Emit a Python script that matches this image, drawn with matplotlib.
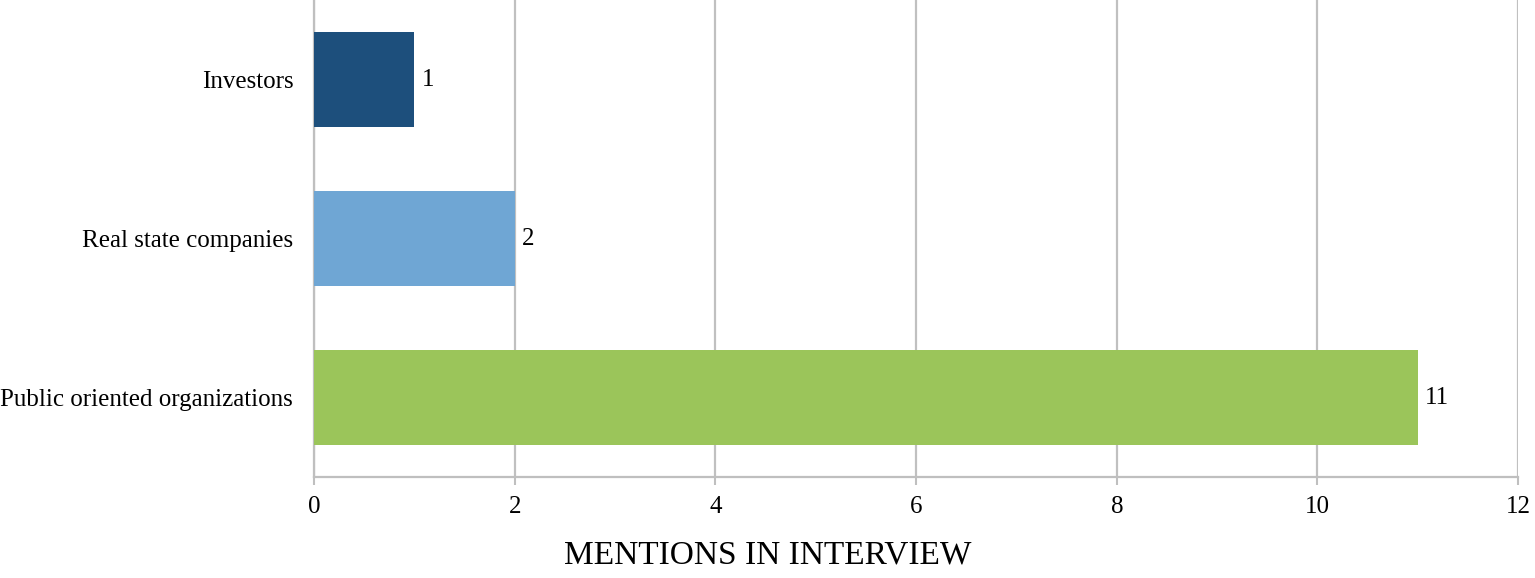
import matplotlib.pyplot as plt

plt.rcParams['font.family'] = ['Liberation Serif', 'DejaVu Serif']

# data
categories = ['Public oriented organizations', 'Real state companies', 'Investors']
mentions = [11, 2, 1]
colors = ['#9BC55A', '#6FA6D4', '#1D4F7C']
xticks = [0, 2, 4, 6, 8, 10, 12]

fig = plt.figure(figsize=(15.35, 5.78), dpi=100)
ax = fig.add_axes([0.2046, 0.1747, 0.7844, 0.8253])

ypos = range(len(categories))
ax.barh(ypos, mentions, height=0.6, color=colors, zorder=3)
for y, v in zip(ypos, mentions):
    ax.text(v + 0.07, y, str(v), va='center', ha='left', fontsize=18)

ax.set_xlim(0, 12)
ax.set_ylim(-0.5, 2.5)
ax.set_xticks(xticks)
ax.set_yticks(list(ypos))
ax.set_yticklabels(categories, fontsize=18)
ax.tick_params(axis='x', labelsize=18, length=6, width=1.5, color='#BFBFBF', pad=8)
ax.tick_params(axis='y', length=0, pad=15)

ax.grid(axis='x', color='#C0C0C0', linewidth=1.6, zorder=0)
for s in ['top', 'right']:
    ax.spines[s].set_visible(False)
for s in ['left', 'bottom']:
    ax.spines[s].set_color('#BFBFBF')
    ax.spines[s].set_linewidth(1.6)

# x label centred on the figure, not the axes
fig.text(0.5, 1 - 555 / 578, 'MENTIONS IN INTERVIEW', fontsize=24, ha='center', va='center')

fig.savefig('out.png', dpi=100)
